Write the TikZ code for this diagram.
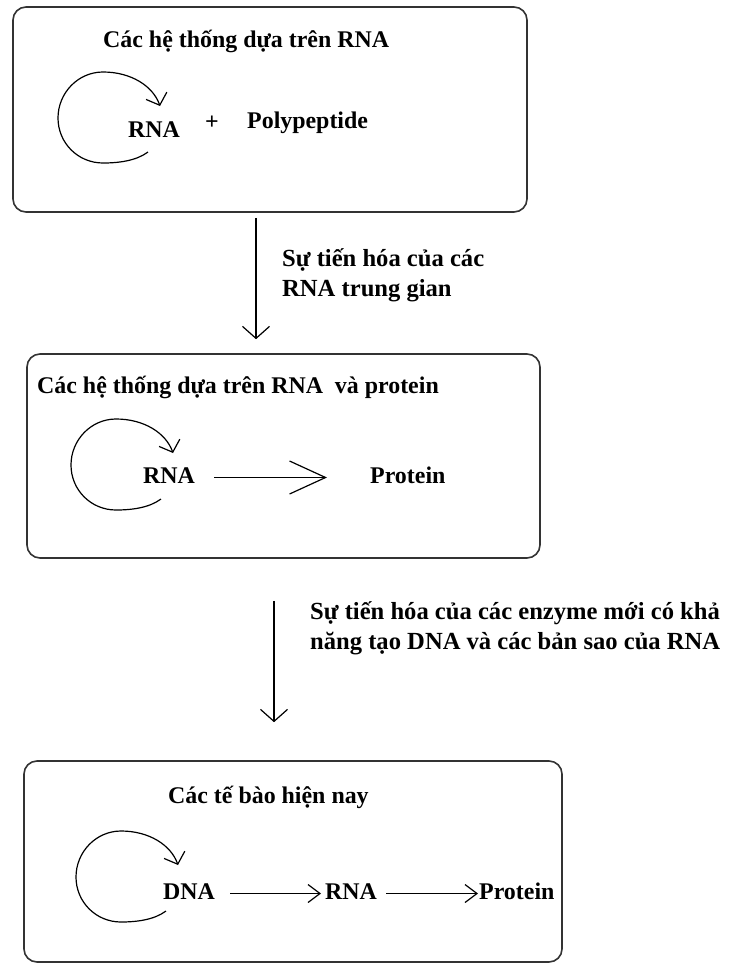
\documentclass[tikz,border=0pt]{standalone}
\usepackage{fontspec}
\setmainfont{Liberation Serif}
\usetikzlibrary{arrows.meta,positioning}

\tikzset{
  stage/.style={draw=black!80, line width=1.6pt, rounded corners=13pt, inner sep=0pt},
  txt/.style={font=\bfseries\fontsize{23.9}{30}\selectfont, inner sep=0pt},
  note/.style={font=\bfseries\fontsize{24.6}{30}\selectfont, inner sep=0pt, align=left},
  term/.style={txt, text height=16pt, text depth=5pt},
  flow/.style={-{Straight Barb[length=12pt,width=27pt]}, line width=1.2pt},
  link/.style={-{Straight Barb[length=12pt,width=18pt]}, line width=1.2pt},
  replic/.pic={
    \draw[line width=1.2pt, -{Straight Barb[length=10pt,width=22pt]}]
      (45,34) .. controls (33,43) and (15,45) .. (0,45)
      .. controls (-25,45) and (-45,25) .. (-45,0)
      .. controls (-45,-25) and (-25,-46) .. (0,-46)
      .. controls (28,-46) and (50,-32) .. (57,-12);
  }
}

\begin{document}
\begin{tikzpicture}[x=1pt,y=-1pt]
  \useasboundingbox (0,0) rectangle (736,967);

  \node[stage, minimum width=514pt, minimum height=205pt] (box1) at (270,109.5) {};
  \node[stage, minimum width=513pt, minimum height=204pt] (box2) at (283.5,456) {};
  \node[stage, minimum width=538pt, minimum height=201pt] (box3) at (293,861.5) {};

  % RNA
  \node[txt, anchor=base west] (title1) at (103,47) {Các hệ thống dựa trên RNA};
  \pic at (103,118) {replic};
  \node[term, anchor=base west] (rna1) at (128,137) {RNA};
  \node[txt] (plus) at (212,123) {+};
  \node[term, anchor=base west] (poly) at (247,128) {Polypeptide};

  \draw[flow, shorten <=5pt, shorten >=14pt] ([xshift=-14pt]box1.south) -- ([xshift=-14pt]box1.south |- box2.north);
  \node[note, anchor=north west] (evo1) at (282,248) {Sự tiến hóa của các\\RNA trung gian};

  % RNA + protein
  \node[txt, anchor=base west] (title2) at (37,393) {Các hệ thống dựa trên RNA\ \ và protein};
  \pic at (116,465) {replic};
  \node[term, anchor=base west] (rna2) at (143,483) {RNA};
  \node[term, anchor=base west] (prot2) at (370,483) {Protein};
  \draw[-{Straight Barb[length=36pt,width=33pt]}, line width=1.2pt, shorten <=19pt, shorten >=43pt] (rna2) -- (prot2);

  \draw[flow, shorten <=42pt, shorten >=38pt] ([xshift=-9.5pt]box2.south) -- ([xshift=-9.5pt]box2.south |- box3.north);
  \node[note, anchor=north west] (evo2) at (310,601) {Sự tiến hóa của các enzyme mới có khả\\năng tạo DNA và các bản sao của RNA};

  % cells
  \node[txt, anchor=base west] (title3) at (168,803) {Các tế bào hiện nay};
  \pic at (121,877) {replic};
  \node[term, anchor=base west] (dna3) at (163,899) {DNA};
  \node[term, anchor=base west] (rna3) at (325,899) {RNA};
  \node[term, anchor=base west] (prot3) at (479,899) {Protein};
  \draw[link, shorten <=15pt, shorten >=4pt] (dna3) -- (rna3);
  \draw[link, shorten <=9pt, shorten >=1pt] (rna3) -- (prot3);
\end{tikzpicture}
\end{document}
